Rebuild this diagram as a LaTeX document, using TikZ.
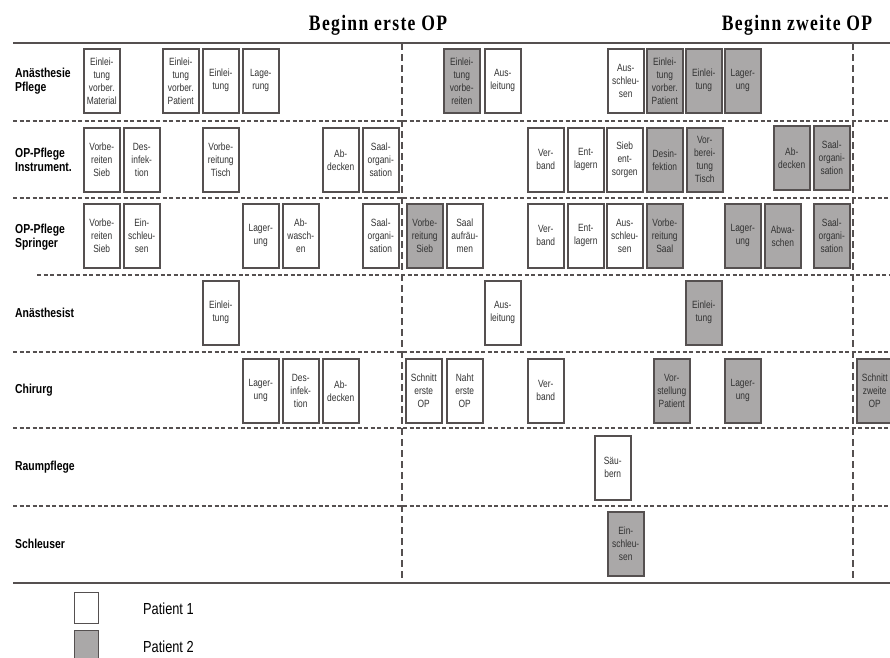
\documentclass[tikz,border=0pt]{standalone}
\usepackage{fontspec}
\setmainfont{Liberation Sans}[FakeStretch=0.8]
\newfontfamily\titlefont{Liberation Serif}[FakeStretch=0.8,LetterSpace=6]
\definecolor{rim}{RGB}{85,80,80}
\definecolor{pat2}{RGB}{170,168,168}

\begin{document}
\begin{tikzpicture}[x=1pt, y=-1pt,
    t/.style={rectangle, draw=rim, line width=1.5pt, anchor=north west, minimum width=36pt, minimum height=64pt, inner sep=0pt, align=center, text=black!80, font=\fontsize{10.5}{13}\selectfont},
    p1/.style={t, fill=white},
    p2/.style={t, fill=pat2},
    lbl/.style={anchor=west, align=left, inner sep=0pt, font=\fontsize{13}{14.5}\selectfont\bfseries},
    ttl/.style={anchor=base, font=\titlefont\fontsize{22}{24}\selectfont\bfseries},
    sep/.style={rim, line width=1.8pt, dash pattern=on 4pt off 2.5pt},
    vsep/.style={rim, line width=1.5pt, dash pattern=on 7pt off 4pt},
    frame/.style={rim, line width=2.5pt}]
    \clip (0,0) rectangle (890,657);
    % titles
    \node[ttl] (h1) at (378,30) {Beginn erste OP};
    \node[ttl] (h2) at (797,30) {Beginn zweite OP};
    % grid
    \draw[frame] (13,43) -- (890,43);
    \draw[frame] (13,583) -- (890,583);
    \foreach \y in {121,198,352,428,506} \draw[sep] (13,\y) -- (890,\y);
    \draw[sep] (37,275) -- (890,275);
    \foreach \x in {402,853} \draw[vsep] (\x,43) -- (\x,578);
    % row labels
    \node[lbl] (l1) at (15,81) {Anästhesie\\Pflege};
    \node[lbl] (l2) at (15,160) {OP-Pflege\\Instrument.};
    \node[lbl] (l3) at (15,237) {OP-Pflege\\Springer};
    \node[lbl] (l4) at (15,313) {Anästhesist};
    \node[lbl] (l5) at (15,390) {Chirurg};
    \node[lbl] (l6) at (15,467) {Raumpflege};
    \node[lbl] (l7) at (15,544) {Schleuser};
    % Anaesthesie Pflege
    \node[p1] (a1) at (83,48) {Einlei-\\tung\\vorber.\\Material};
    \node[p1] (a2) at (162,48) {Einlei-\\tung\\vorber.\\Patient};
    \node[p1] (a3) at (202,48) {Einlei-\\tung};
    \node[p1] (a4) at (242,48) {Lage-\\rung};
    \node[p2] (a5) at (443,48) {Einlei-\\tung\\vorbe-\\reiten};
    \node[p1] (a6) at (484,48) {Aus-\\leitung};
    \node[p1] (a7) at (607,48) {Aus-\\schleu-\\sen};
    \node[p2] (a8) at (646,48) {Einlei-\\tung\\vorber.\\Patient};
    \node[p2] (a9) at (685,48) {Einlei-\\tung};
    \node[p2] (a10) at (724,48) {Lager-\\ung};
    % OP-Pflege Instrument.
    \node[p1] (i1) at (83,127) {Vorbe-\\reiten\\Sieb};
    \node[p1] (i2) at (123,127) {Des-\\infek-\\tion};
    \node[p1] (i3) at (202,127) {Vorbe-\\reitung\\Tisch};
    \node[p1] (i4) at (322,127) {Ab-\\decken};
    \node[p1] (i5) at (362,127) {Saal-\\organi-\\sation};
    \node[p1] (i6) at (527,127) {Ver-\\band};
    \node[p1] (i7) at (567,127) {Ent-\\lagern};
    \node[p1] (i8) at (606,127) {Sieb\\ent-\\sorgen};
    \node[p2] (i9) at (646,127) {Desin-\\fektion};
    \node[p2] (i10) at (686,127) {Vor-\\berei-\\tung\\Tisch};
    \node[p2] (i11) at (773,125) {Ab-\\decken};
    \node[p2] (i12) at (813,125) {Saal-\\organi-\\sation};
    % OP-Pflege Springer
    \node[p1] (s1) at (83,203) {Vorbe-\\reiten\\Sieb};
    \node[p1] (s2) at (123,203) {Ein-\\schleu-\\sen};
    \node[p1] (s3) at (242,203) {Lager-\\ung};
    \node[p1] (s4) at (282,203) {Ab-\\wasch-\\en};
    \node[p1] (s5) at (362,203) {Saal-\\organi-\\sation};
    \node[p2] (s6) at (406,203) {Vorbe-\\reitung\\Sieb};
    \node[p1] (s7) at (446,203) {Saal\\aufräu-\\men};
    \node[p1] (s8) at (527,203) {Ver-\\band};
    \node[p1] (s9) at (567,203) {Ent-\\lagern};
    \node[p1] (s10) at (606,203) {Aus-\\schleu-\\sen};
    \node[p2] (s11) at (646,203) {Vorbe-\\reitung\\Saal};
    \node[p2] (s12) at (724,203) {Lager-\\ung};
    \node[p2] (s13) at (764,203) {Abwa-\\schen};
    \node[p2] (s14) at (813,203) {Saal-\\organi-\\sation};
    % Anaesthesist
    \node[p1] (n1) at (202,280) {Einlei-\\tung};
    \node[p1] (n2) at (484,280) {Aus-\\leitung};
    \node[p2] (n3) at (685,280) {Einlei-\\tung};
    % Chirurg
    \node[p1] (c1) at (242,358) {Lager-\\ung};
    \node[p1] (c2) at (282,358) {Des-\\infek-\\tion};
    \node[p1] (c3) at (322,358) {Ab-\\decken};
    \node[p1] (c4) at (405,358) {Schnitt\\erste\\OP};
    \node[p1] (c5) at (446,358) {Naht\\erste\\OP};
    \node[p1] (c6) at (527,358) {Ver-\\band};
    \node[p2] (c7) at (653,358) {Vor-\\stellung\\Patient};
    \node[p2] (c8) at (724,358) {Lager-\\ung};
    \node[p2] (c9) at (856,358) {Schnitt\\zweite\\OP};
    % Raumpflege, Schleuser
    \node[p1] (r1) at (594,435) {Säu-\\bern};
    \node[p2] (e1) at (607,511) {Ein-\\schleu-\\sen};
    % legend
    \node[p1, minimum width=24pt, minimum height=31pt] (k1) at (73.5,591.5) {};
    \node[p2, minimum width=24pt, minimum height=31pt] (k2) at (73.5,629.5) {};
    \node[anchor=west, inner sep=0pt, font=\fontsize{16}{18}\selectfont] (k1t) at (143,609) {Patient 1};
    \node[anchor=west, inner sep=0pt, font=\fontsize{16}{18}\selectfont] (k2t) at (143,647) {Patient 2};
\end{tikzpicture}
\end{document}
